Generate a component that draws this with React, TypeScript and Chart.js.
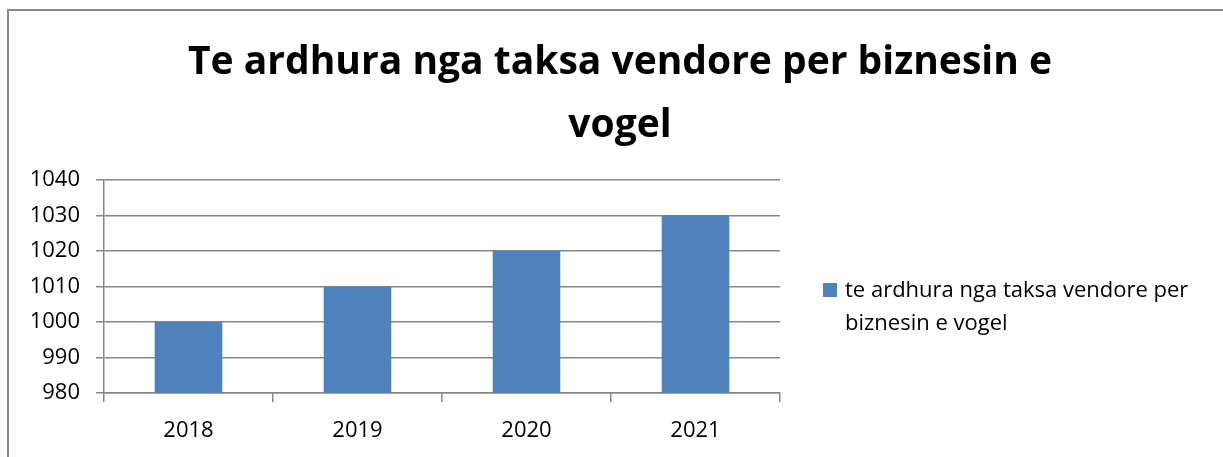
import React, { useEffect, useRef } from "react";
import { Chart, registerables } from "chart.js";

Chart.register(...registerables);

const categories = ["2018", "2019", "2020", "2021"];
const values = [1000, 1010, 1020, 1030];
const seriesLabel = "te ardhura nga taksa vendore per biznesin e vogel";
const legendLines = ["te ardhura nga taksa vendore per", "biznesin e vogel"];
const titleLines = ["Te ardhura nga taksa vendore per biznesin e", "vogel"];
const yMin = 980;
const yMax = 1040;
const yStep = 10;

const BAR_COLOR = "#4F81BD";
const GRID_COLOR = "#868686";
const FONT = "'Open Sans', 'DejaVu Sans', sans-serif";

const framePlugin = {
  id: "frameAndLegend",
  beforeDraw(chart: any) {
    const ctx = chart.ctx;
    ctx.save();
    ctx.fillStyle = "#ffffff";
    ctx.fillRect(0, 0, chart.width, chart.height);
    ctx.fillStyle = "#8a8a8a";
    ctx.fillRect(7, 9, 2, chart.height - 9);
    ctx.fillRect(7, 9, chart.width - 7, 2);
    ctx.restore();
  },
  afterDraw(chart: any) {
    const ctx = chart.ctx;
    const ds = chart.data.datasets[0];
    const area = chart.chartArea;
    const boxX = area.right + 43;
    ctx.save();
    ctx.fillStyle = ds.backgroundColor;
    ctx.fillRect(boxX, 283, 14, 14);
    ctx.fillStyle = "#000000";
    ctx.font = `22px ${FONT}`;
    ctx.textAlign = "left";
    ctx.textBaseline = "alphabetic";
    legendLines.forEach((line, i) => {
      ctx.fillText(line, boxX + 22, 297 + i * 33);
    });
    ctx.restore();
  },
};

export default function App() {
  const ref = useRef<HTMLCanvasElement | null>(null);

  useEffect(() => {
    if (!ref.current) return;
    const chart = new Chart(ref.current, {
      type: "bar",
      data: {
        labels: categories,
        datasets: [
          {
            label: seriesLabel,
            data: values,
            backgroundColor: BAR_COLOR,
            borderWidth: 0,
            categoryPercentage: 1,
            barPercentage: 0.4,
          },
        ],
      },
      options: {
        responsive: false,
        animation: false,
        layout: { padding: { left: 17, right: 0, top: 0, bottom: 0 } },
        plugins: {
          legend: { display: false },
          tooltip: { enabled: false },
          title: {
            display: true,
            text: titleLines,
            color: "#000000",
            font: { family: FONT, size: 39, weight: "bold", lineHeight: 1.6 },
            padding: { top: 32, bottom: 23 },
          },
        },
        scales: {
          x: {
            grid: {
              display: true,
              drawOnChartArea: false,
              drawTicks: true,
              tickLength: 9,
              color: GRID_COLOR,
              lineWidth: 1.5,
            },
            border: { display: true, color: GRID_COLOR, width: 1.5 },
            ticks: {
              color: "#000000",
              font: { family: FONT, size: 22 },
              padding: 16,
            },
            afterFit: (s: any) => {
              s.height = 64;
            },
          },
          y: {
            min: yMin,
            max: yMax,
            grid: {
              color: GRID_COLOR,
              lineWidth: 1.5,
              tickLength: 8,
            },
            border: { display: true, color: GRID_COLOR, width: 1.5 },
            ticks: {
              stepSize: yStep,
              color: "#000000",
              font: { family: FONT, size: 22 },
              padding: 16,
              callback: (v: any) => String(v),
            },
            afterFit: (s: any) => {
              s.width = 87;
            },
          },
          spacer: {
            type: "linear",
            position: "right",
            display: true,
            grid: { display: false },
            border: { display: false },
            ticks: { display: false },
            afterFit: (s: any) => {
              s.width = 443;
            },
          },
        },
      },
      plugins: [framePlugin],
    });
    return () => chart.destroy();
  }, []);

  return (
    <div style={{ position: "fixed", left: 0, top: 0, width: 1223, height: 457 }}>
      <canvas ref={ref} width={1223} height={457} style={{ width: 1223, height: 457 }} />
    </div>
  );
}
